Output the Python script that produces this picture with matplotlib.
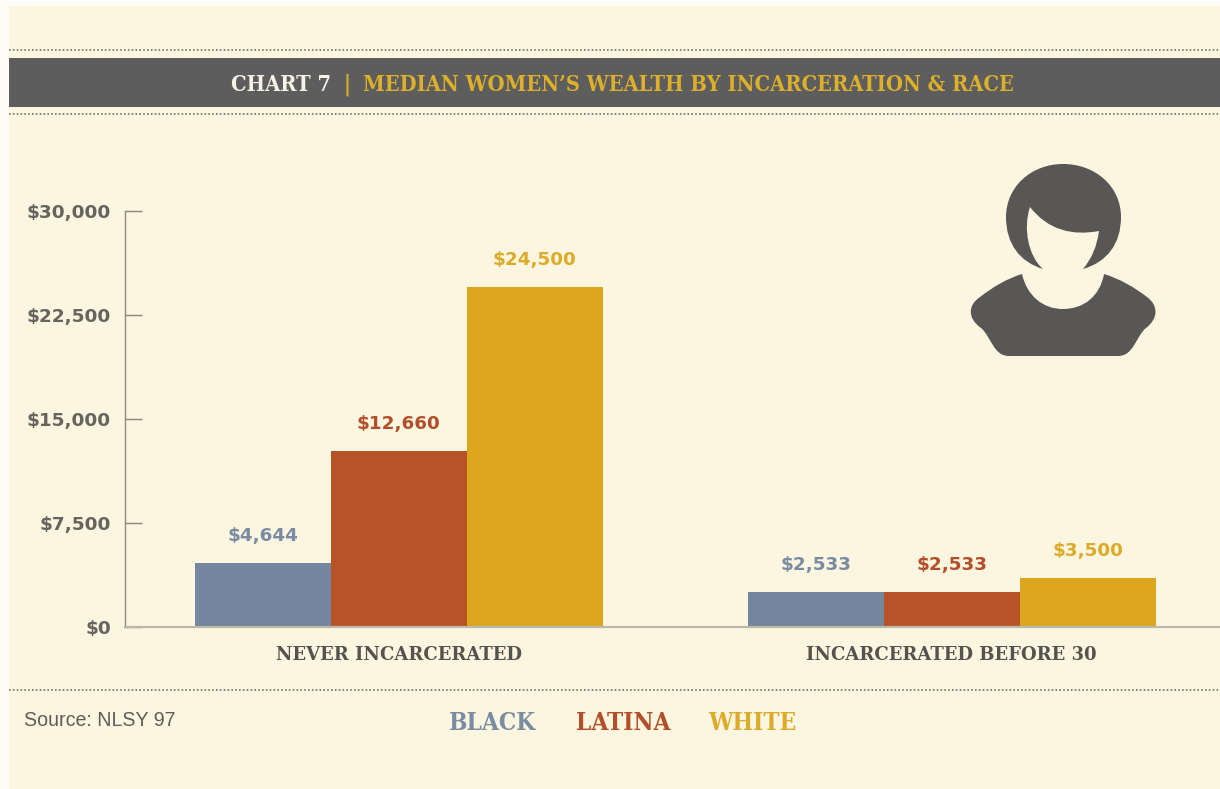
import matplotlib
matplotlib.use('Agg')
import matplotlib.pyplot as plt
from matplotlib.patches import PathPatch, Rectangle
from matplotlib.path import Path

# ---- #
# data #
# ---- #
groups = ['NEVER INCARCERATED', 'INCARCERATED BEFORE 30']
races = ['BLACK', 'LATINA', 'WHITE']
black = [4644, 2533]
latina = [12660, 2533]
white = [24500, 3500]
yticks = [0, 7500, 15000, 22500, 30000]

CREAM = '#fcf5df'
GREY = '#5d5d5d'
colors = ['#75879f', '#b85228', '#dca71f']
label_colors = ['#7a8ca3', '#b24f2a', '#dcab2a']
W, H = 1220, 789

fig = plt.figure(figsize=(W / 100, H / 100), dpi=100, facecolor='#fdfcf7')

# page furniture is laid out in pixels
bg = fig.add_axes([0, 0, 1, 1])
bg.set_xlim(0, W)
bg.set_ylim(H, 0)
bg.axis('off')
bg.add_patch(Rectangle((9, 6), W - 9, H - 6, color=CREAM, lw=0))
bg.add_patch(Rectangle((9, 58), W - 9, 49, color=GREY, lw=0))
for y in [50, 114, 690]:
    bg.plot([9, W], [y, y], color='#77746c', lw=1.2, ls=(0, (1, 1.3)))

# title
SLAB = dict(family='DejaVu Serif', stretch='condensed', weight='bold')
WIDE_SLAB = dict(family='DejaVu Serif', weight='bold')
bg.text(231, 85, 'CHART 7', color='#f7f3e6', fontsize=15.7, va='center', ha='left', **SLAB)
bg.text(347, 85, '|', color='#dcb02a', fontsize=15.7, va='center', ha='center', **SLAB)
bg.text(363, 85, 'MEDIAN WOMEN\u2019S WEALTH BY INCARCERATION & RACE', color='#dcb02a',
        fontsize=15.7, va='center', ha='left', **SLAB)

# woman icon
M, L, C = Path.MOVETO, Path.LINETO, Path.CURVE4
hair = [
    (M, (1043, 269)),
    (C, (1020, 262)), (C, (1006, 244)), (C, (1006, 217)),
    (C, (1006, 187)), (C, (1031, 164)), (C, (1063, 164)),
    (C, (1096, 164)), (C, (1121, 187)), (C, (1121, 217)),
    (C, (1121, 244)), (C, (1107, 262)), (C, (1083, 269)),
    (C, (1092, 258)), (C, (1097, 246)), (C, (1099, 231)),
    (C, (1072, 236)), (C, (1048, 230)), (C, (1030, 207)),
    (C, (1023, 228)), (C, (1028, 256)), (C, (1043, 269)),
]
body = [
    (M, (1022, 274)),
    (C, (1027, 296)), (C, (1043, 309)), (C, (1063, 309)),
    (C, (1084, 309)), (C, (1100, 296)), (C, (1104, 274)),
    (C, (1120, 279)), (C, (1134, 287)), (C, (1147, 297)),
    (C, (1158, 305)), (C, (1159, 318)), (C, (1146, 328)),
    (C, (1136, 336)), (C, (1134, 356)), (C, (1118, 356)),
    (L, (1009, 356)),
    (C, (993, 356)), (C, (991, 336)), (C, (981, 328)),
    (C, (967, 318)), (C, (968, 305)), (C, (980, 297)),
    (C, (993, 287)), (C, (1006, 279)), (C, (1022, 274)),
]
for shape in [hair, body]:
    codes = [s[0] for s in shape]
    verts = [s[1] for s in shape]
    bg.add_patch(PathPatch(Path(verts, codes), facecolor='#585756', edgecolor='none'))

# bars
ax = fig.add_axes([125 / W, 1 - 627 / H, (W - 125) / W, 416 / H])
ax.patch.set_alpha(0)
ax.set_xlim(-0.495, 1.485)
ax.set_ylim(0, 30000)
width = 0.246
for i, (vals, c, lc) in enumerate(zip([black, latina, white], colors, label_colors)):
    xs = [g + (i - 1) * width for g in range(len(groups))]
    ax.bar(xs, vals, width=width, color=c, lw=0, zorder=2)
    for x, v in zip(xs, vals):
        ax.annotate('${:,}'.format(v), (x, v), xytext=(0, 19.5), textcoords='offset points',
                    ha='center', va='center', color=lc, fontsize=13.2, weight='bold')

for side in ['top', 'right']:
    ax.spines[side].set_visible(False)
ax.spines['left'].set_color('#8b887f')
ax.spines['left'].set_linewidth(1)
ax.spines['bottom'].set_color('#bdb9aa')
ax.spines['bottom'].set_linewidth(1.6)
ax.spines['bottom'].set_zorder(5)
ax.set_yticks(yticks)
ax.set_yticklabels(['${:,}'.format(t) for t in yticks], color='#66645f', fontsize=13.3, weight='bold')
ax.tick_params(axis='y', length=12, width=1, color='#8b887f', pad=10, direction='in')
ax.set_xticks(range(len(groups)))
ax.set_xticklabels(groups, color='#55534f', fontsize=13, **WIDE_SLAB)
ax.tick_params(axis='x', length=0, pad=14)

# source and race key
bg.text(24, 720, 'Source: NLSY 97', family='Liberation Sans', color='#5f5e5a', fontsize=14.1,
        va='center', ha='left')
for name, x, lc in zip(races, [449, 576, 708], label_colors):
    bg.text(x, 723, name, color=lc, fontsize=17.5, va='center', ha='left', **SLAB)

plt.savefig('out.png', dpi=100, facecolor=fig.get_facecolor())
